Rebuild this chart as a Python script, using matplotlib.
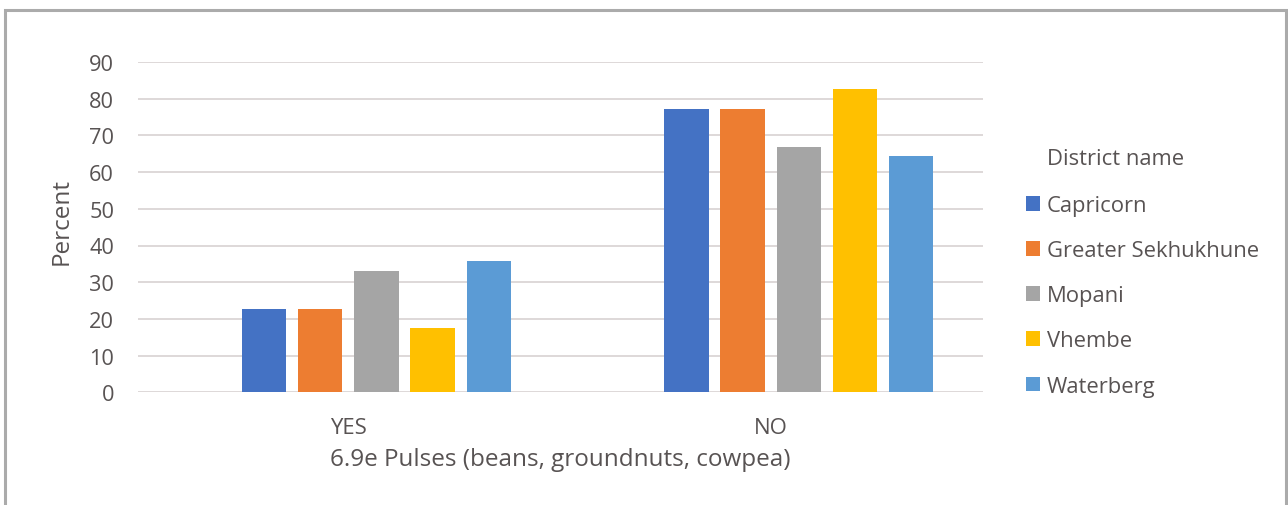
import matplotlib
matplotlib.use("Agg")
import matplotlib.pyplot as plt
import matplotlib.transforms as mtransforms
from matplotlib.patches import Patch, Rectangle
import numpy as np

plt.rcParams['font.family'] = ['Open Sans', 'DejaVu Sans']

categories = ["YES", "NO"]
districts = ["Capricorn", "Greater Sekhukhune", "Mopani", "Vhembe", "Waterberg"]
capricorn = [22.8, 77.2]
greater_sekhukhune = [22.8, 77.2]
mopani = [33.1, 66.9]
vhembe = [17.4, 82.6]
waterberg = [35.7, 64.3]
yticks = [0, 10, 20, 30, 40, 50, 60, 70, 80, 90]

series = [capricorn, greater_sekhukhune, mopani, vhembe, waterberg]
colors = ["#4472C4", "#ED7D31", "#A5A5A5", "#FFC000", "#5B9BD5"]
text_color = "#585353"

W, H = 1288, 506
fig = plt.figure(figsize=(W / 100, H / 100), dpi=100)

# outer chart frame
fig.patches.append(Rectangle((5 / W, -0.05), (1286 - 5) / W, 1.05 - 11 / H,
                             transform=fig.transFigure, fill=False,
                             edgecolor="#ababab", linewidth=2.2))

ax = fig.add_axes([137.7 / W, 1 - 393.3 / H, (983.3 - 137.7) / W, (393.3 - 63) / H])

x = np.arange(len(categories))
step = 0.133
width = 0.105
for i, (vals, col) in enumerate(zip(series, colors)):
    ax.bar(x + (i - 2) * step, vals, width=width, color=col, zorder=3,
           label=districts[i])

ax.set_xlim(-0.565, 1.437)
ax.set_ylim(0, 90)
ax.set_yticks(yticks)
ax.set_xticks(x)
ax.set_xticklabels(categories)
ax.grid(axis="y", color="#dbd6d6", linewidth=1.3, zorder=0)
for s in ax.spines.values():
    s.set_visible(False)
ax.tick_params(axis="both", length=0, labelcolor=text_color)
ax.tick_params(axis="y", pad=17, labelsize=15.7)
ax.tick_params(axis="x", pad=17.5, labelsize=16)

# category labels sit slightly left of their bar groups
shift = mtransforms.ScaledTranslation(-0.28, 0, fig.dpi_scale_trans)
for lbl in ax.get_xticklabels():
    lbl.set_transform(lbl.get_transform() + shift)

ax.set_ylabel("Percent", fontsize=17.5, color=text_color, va="center")
ax.yaxis.set_label_coords(-0.0895, 0.52)
ax.set_xlabel("6.9e Pulses (beans, groundnuts, cowpea)", fontsize=17.5,
              color=text_color, va="center")
ax.xaxis.set_label_coords(0.5, -0.202)

fig.text(1047 / W, 1 - 160 / H, "District name", fontsize=15.8, color=text_color,
         ha="left", va="center")
handles = [Patch(facecolor=c, edgecolor="none") for c in colors]
leg = fig.legend(handles, districts, loc="upper left",
                 bbox_to_anchor=(1026 / W, 1 - 196 / H), frameon=False,
                 fontsize=15.8, labelcolor=text_color, handlelength=0.64,
                 handleheight=0.64, handletextpad=0.32, labelspacing=1.1,
                 borderpad=0, borderaxespad=0)

fig.savefig("out.png", dpi=100)
